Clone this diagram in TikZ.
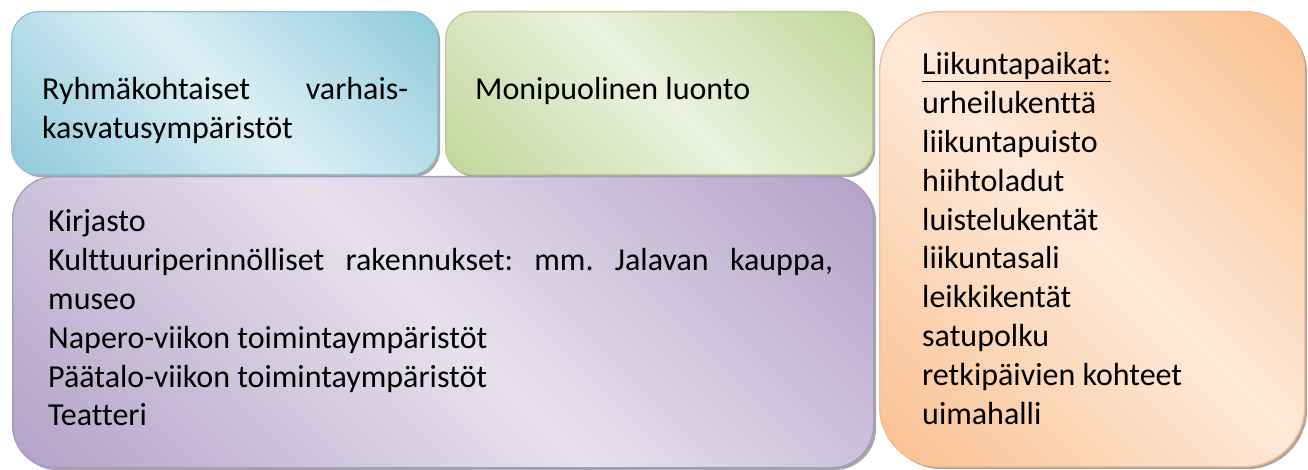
\documentclass[tikz,border=0pt]{standalone}
\usepackage{fontspec}
\setmainfont{Carlito}[Ligatures=NoCommon]
\usetikzlibrary{shadows}
\definecolor{bD}{HTML}{8FCADB}
\definecolor{bL}{HTML}{DDEFF5}
\definecolor{bB}{HTML}{8EC4D6}
\definecolor{gD}{HTML}{C3D69B}
\definecolor{gL}{HTML}{EBF1DE}
\definecolor{gB}{HTML}{B9CF92}
\definecolor{pD}{HTML}{B3A2C7}
\definecolor{pL}{HTML}{E6E1ED}
\definecolor{pB}{HTML}{A999C2}
\definecolor{oD}{HTML}{FAC090}
\definecolor{oL}{HTML}{FDE9D9}
\definecolor{oB}{HTML}{F8BB8C}
\pgfdeclareverticalshading{bS}{100bp}{color(0bp)=(bD); color(15bp)=(bD); color(50bp)=(bL); color(85bp)=(bD); color(100bp)=(bD)}
\pgfdeclareverticalshading{gS}{100bp}{color(0bp)=(gD); color(15bp)=(gD); color(50bp)=(gL); color(85bp)=(gD); color(100bp)=(gD)}
\pgfdeclareverticalshading{pS}{100bp}{color(0bp)=(pD); color(15bp)=(pD); color(50bp)=(pL); color(85bp)=(pD); color(100bp)=(pD)}
\pgfdeclareverticalshading{oS}{100bp}{color(0bp)=(oD); color(15bp)=(oD); color(50bp)=(oL); color(85bp)=(oD); color(100bp)=(oD)}
\tikzset{
  box/.style={draw, line width=1.3pt, inner sep=0pt, anchor=north west,
    drop shadow={shadow xshift=2.5pt, shadow yshift=-2.5pt, fill=black, opacity=0.35}},
  grad/.style={shade, shading=#1, shading angle=-45},
  txt/.style={anchor=base west, inner sep=0pt, font=\fontsize{32}{38.8}\selectfont\frenchspacing}
}
\begin{document}
\begin{tikzpicture}[x=1pt,y=-1pt]
\useasboundingbox (0,0) rectangle (1308,470);
% boxes
\node[box, draw=bB, grad=bS, rounded corners=27pt,
  minimum width=426pt, minimum height=163pt] (blue) at (11,11) {};
\node[box, draw=gB, grad=gS, rounded corners=27pt,
  minimum width=427pt, minimum height=163pt] (green) at (445,11) {};
\node[box, draw=pB, grad=pS, rounded corners=42pt,
  minimum width=861pt, minimum height=291pt] (purple) at (12,176) {};
\node[box, draw=oB, grad=oS, rounded corners=60pt,
  minimum width=425pt, minimum height=455pt] (orange) at (879,11) {};
% texts
\node[txt] (tblue) at (42,100) {\parbox[t]{366pt}{\makebox[\linewidth][s]{Ryhmäkohtaiset varhais-}\\kasvatusympäristöt}};
\node[txt] (tgreen) at (475,100) {Monipuolinen luonto};
\node[txt] (tpurple) at (48,232) {\parbox[t]{785pt}{Kirjasto\\
\makebox[\linewidth][s]{Kulttuuriperinnölliset rakennukset: mm. Jalavan kauppa,}\\
museo\\
Napero-viikon toimintaympäristöt\\
Päätalo-viikon toimintaympäristöt\\
Teatteri}};
\node[txt] (torange) at (922,75) {\parbox[t]{360pt}{\underline{Liikuntapaikat:}\\
urheilukenttä\\
liikuntapuisto\\
hiihtoladut\\
luistelukentät\\
liikuntasali\\
leikkikentät\\
satupolku\\
retkipäivien kohteet\\
uimahalli}};
\end{tikzpicture}
\end{document}
